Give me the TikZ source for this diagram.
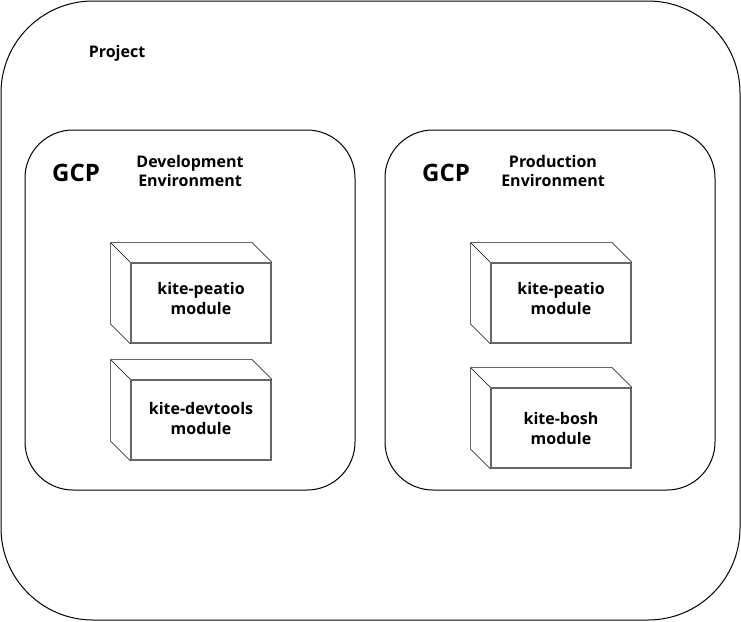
\documentclass[tikz,border=0pt]{standalone}
\usepackage{fontspec}
\setmainfont{Open Sans}
\usetikzlibrary{positioning}

\tikzset{
  outerbox/.style={draw=black, line width=1pt, rounded corners=92pt},
  envbox/.style={draw=black, line width=1pt, rounded corners=48pt},
  modface/.style={draw=black!60, line width=1.5pt, minimum width=140pt, minimum height=80pt, inner sep=0pt},
  modline/.style={draw=black!60, line width=1.5pt},
  modedge/.style={draw=black, line width=0.5pt},
  modtext/.style={font=\bfseries\fontsize{16}{19.5}\selectfont, align=center},
  envtext/.style={font=\bfseries\fontsize{16}{19.5}\selectfont, align=center},
  gcptext/.style={font=\bfseries\fontsize{24}{26}\selectfont},
}

\begin{document}
\begin{tikzpicture}[x=1pt,y=-1pt]
\useasboundingbox (0,0) rectangle (741,621);

% project frame
\draw[outerbox] (1,1) rectangle (740,620);
\node[font=\bfseries\fontsize{16}{18}\selectfont, anchor=base] (project) at (117,57) {Project};

% environments
\foreach \Name/\Xc/\Gx/\Tx/\Texto in {dev/25/76/190/Development, prod/385/446/553/Production}
{
  \draw[envbox] (\Xc,130) rectangle ++(330,360);
  \node[gcptext, anchor=base] (\Name-gcp) at (\Gx,181) {GCP};
  \node[envtext, anchor=base] (\Name-title) at (\Tx,186.5) {\Texto\\Environment};
}

% modules
\foreach \Name/\Xc/\Yc/\Ty/\Texto in {devpeatio/201/303/298.5/kite-peatio,devtools/201/420/418.5/kite-devtools,prodpeatio/561/303/298.5/kite-peatio,prodbosh/561/428/428.5/kite-bosh}
{
  \node[modface] (\Name) at (\Xc,\Yc) {};
  \draw[modedge]
    (\Name.north west) -- ++(-20,-20)
    (\Name.north east) -- ++(-20,-20)
    (\Name.south west) -- ++(-20,-20);
  \draw[modline]
    ([shift={(-20,-20)}]\Name.south west) -- ([shift={(-20,-20)}]\Name.north west)
      -- ([shift={(-20,-20)}]\Name.north east);
  \node[modtext] (\Name-txt) at (\Xc,\Ty) {\Texto\\module};
}
\end{tikzpicture}
\end{document}
